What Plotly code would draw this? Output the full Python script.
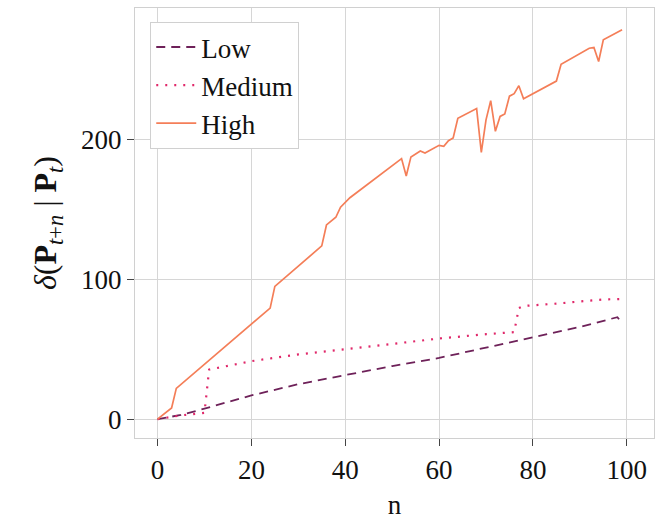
import plotly.graph_objects as go

# High series (vertices)
high_n = [0, 3, 4, 24, 25, 35, 36, 38, 39, 41, 52, 53, 54, 56, 57, 60, 61, 62, 63, 64,
          68, 69, 70, 71, 72, 73, 74, 75, 76, 77, 78, 85, 86, 92, 93, 94, 95, 99]
high_v = [0, 8, 22, 79.5, 95, 124, 139, 144.5, 151.7, 158.5, 186.5, 174, 187.7, 192, 190.5, 196, 195.3, 199.3, 201.2, 215.4,
          222.3, 191, 214.2, 228, 206, 216.7, 218.4, 231.2, 233, 238.7, 229.4, 242, 254, 265.5, 266, 256, 271.5, 278.8]

# Medium series
med_n = [0, 5, 10, 11, 20, 30, 40, 50, 60, 70, 76, 77, 78, 85, 90, 95, 99]
med_v = [0, 2.7, 4.5, 35.5, 41.5, 46.3, 50, 54, 57.7, 60.8, 62.3, 79.5, 81, 82.7, 84.2, 85.7, 86]

# Low series
low_n = [0, 5, 10, 20, 30, 40, 50, 60, 70, 80, 90, 98, 99]
low_v = [0, 3, 7.5, 17, 25, 31.5, 38, 43.8, 51, 58.6, 66, 73, 68.5]

x_ticks = [0, 20, 40, 60, 80, 100]
y_ticks = [0, 100, 200]

FONT = "Liberation Serif"

fig = go.Figure()
fig.add_trace(go.Scatter(x=low_n, y=low_v, mode="lines", name="Low",
                         line=dict(color="#6e2159", width=1.8, dash="9px,6px")))
fig.add_trace(go.Scatter(x=med_n, y=med_v, mode="lines", name="Medium",
                         line=dict(color="#e0286a", width=2.2, dash="2px,7px")))
fig.add_trace(go.Scatter(x=high_n, y=high_v, mode="lines", name="High",
                         line=dict(color="#f47e58", width=1.7)))

axis_common = dict(
    showgrid=True, gridcolor="#d6d6d6", gridwidth=1.2,
    zeroline=False,
    showline=True, linecolor="#d0d0d0", linewidth=1.2, mirror=True,
    ticks="outside", ticklen=7, tickwidth=1.2, tickcolor="#444444",
    tickfont=dict(family=FONT, size=27, color="#111111"),
)

fig.update_layout(
    width=660, height=520,
    margin=dict(l=135, r=5, t=8, b=80),
    paper_bgcolor="white", plot_bgcolor="white",
    font=dict(family=FONT, color="#111111"),
    xaxis=dict(range=[-4.8, 105.8], tickvals=x_ticks,
               title=dict(text="n", font=dict(family=FONT, size=27), standoff=12),
               **axis_common),
    yaxis=dict(range=[-13.5, 294.3], tickvals=y_ticks,
               title=dict(text="<i>δ</i>(<b>P</b><sub><i>t</i>+<i>n</i></sub> | <b>P</b><sub><i>t</i></sub>)",
                          font=dict(family=FONT, size=32), standoff=14),
               **axis_common),
    legend=dict(x=0.029, y=0.968, xanchor="left", yanchor="top",
                bgcolor="white", bordercolor="#d0d0d0", borderwidth=1.2,
                font=dict(family=FONT, size=27), tracegroupgap=0,
                itemwidth=40),
    showlegend=True,
)

fig.write_html("out.html")
